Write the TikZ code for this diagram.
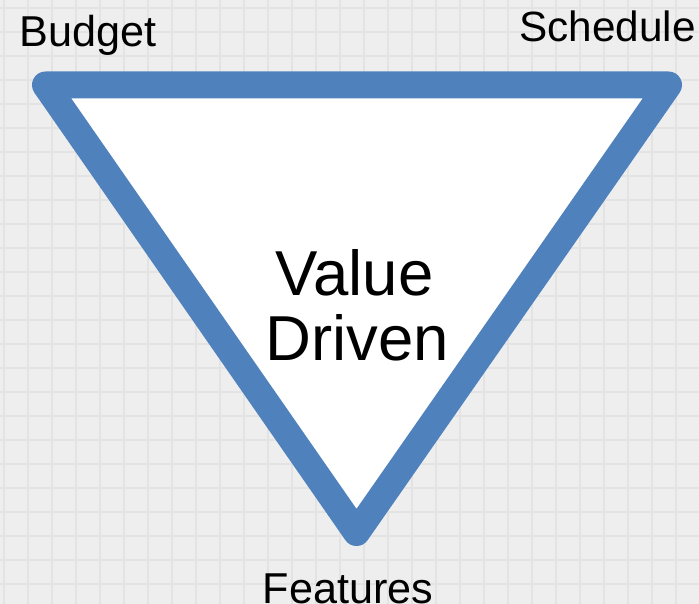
\documentclass[tikz,border=0pt]{standalone}
\usepackage{fontspec}
\setmainfont{Liberation Sans}
\definecolor{bgcol}{RGB}{238,238,238}
\definecolor{gridcol}{RGB}{227,227,227}
\definecolor{tricol}{RGB}{79,129,189}
\tikzset{
  gridline/.style={draw=gridcol, line width=2.6pt},
  tri/.style={draw=tricol, fill=white, line width=27pt, line join=round},
  corner/.style={inner sep=0pt, anchor=base west, text=black, font=\fontsize{43.2}{50}\selectfont},
  core/.style={inner sep=0pt, anchor=base west, text=black, font=\fontsize{63.5}{66}\selectfont}
}
\begin{document}
\begin{tikzpicture}[x=1pt,y=-1pt]
  \fill[bgcol] (0,0) rectangle (699,604);
  \useasboundingbox (0,0) rectangle (699,604);
  \foreach \k in {0,...,28} { \draw[gridline] (4+24*\k,0) -- (4+24*\k,604); }
  \foreach \k in {0,...,24} { \draw[gridline] (0,8+24*\k) -- (699,8+24*\k); }
  \coordinate (B) at (45.5,85);
  \coordinate (S) at (668.5,85);
  \coordinate (F) at (356.5,532.5);
  \draw[tri] (B) -- (S) -- (F) -- cycle;
  \node[corner] (budget) at (19.5,47) {Budget};
  \node[corner, font=\fontsize{42.3}{50}\selectfont] (schedule) at (519,42) {Schedule};
  \node[corner] (features) at (262.5,603) {Features};
  \node[core] (value) at (275.5,295) {Value};
  \node[core] (driven) at (265.5,360.5) {Driven};
\end{tikzpicture}
\end{document}
